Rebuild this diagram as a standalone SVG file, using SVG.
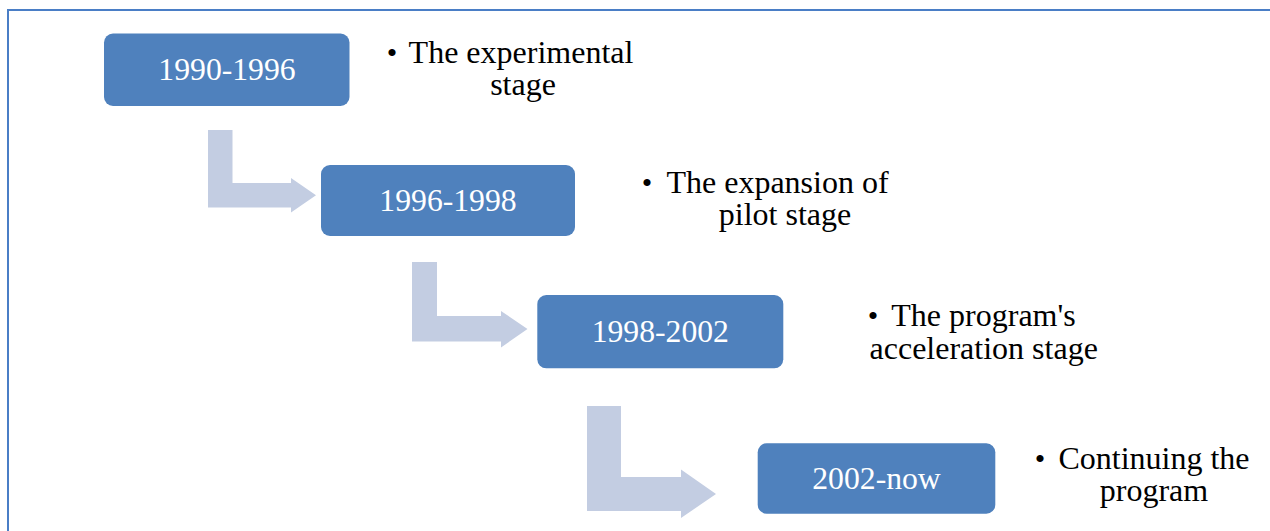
<svg xmlns="http://www.w3.org/2000/svg" width="1270" height="531" viewBox="0 0 1270 531">
<style>
.box{fill:#4F81BD;}
.arr{fill:#C3CDE2;}
.bt{font-family:"Liberation Serif","Times New Roman",serif;font-size:31.7px;fill:#FFFFFF;text-anchor:middle;}
.lt{font-family:"Liberation Serif","Times New Roman",serif;font-size:32px;fill:#000000;text-anchor:middle;}
.bu{font-family:"Liberation Serif","Times New Roman",serif;font-size:30px;fill:#000000;text-anchor:middle;}
</style>
<rect width="1270" height="531" fill="#FFFFFF"/>
<path d="M8,531 V10 H1270" fill="none" stroke="#4A7EC6" stroke-width="2"/>
<g id="connectors">
<polygon class="arr" points="208,130 232.5,130 232.5,183 291,183 291,178 316,195.3 291,212.5 291,207.5 208,207.5"/>
<polygon class="arr" points="412,262 437,262 437,316 501,316 501,311 527.5,329 501,347.5 501,341.5 412,341.5"/>
<polygon class="arr" points="587,406 621,406 621,477 681,477 681,469.5 716,494 681,518 681,511 587,511"/>
</g>
<g id="node1">
<rect class="box" x="104" y="33.5" width="245.5" height="72.5" rx="9"/>
<text class="bt" x="227" y="80">1990-1996</text>
</g>
<g id="label1">
<text class="bu" x="392" y="62.5">•</text>
<text class="lt" x="521" y="62.5">The experimental</text>
<text class="lt" x="523" y="95">stage</text>
</g>
<g id="node2">
<rect class="box" x="321" y="165" width="254" height="71" rx="9"/>
<text class="bt" x="448" y="210.7">1996-1998</text>
</g>
<g id="label2">
<text class="bu" x="647" y="192.5">•</text>
<text class="lt" x="777.5" y="192.5">The expansion of</text>
<text class="lt" x="785" y="225">pilot stage</text>
</g>
<g id="node3">
<rect class="box" x="537.3" y="295" width="246" height="73.3" rx="9"/>
<text class="bt" x="660.3" y="341.7">1998-2002</text>
</g>
<g id="label3">
<text class="bu" x="873" y="326">•</text>
<text class="lt" x="983.5" y="326">The program's</text>
<text class="lt" x="983.7" y="359.3">acceleration stage</text>
</g>
<g id="node4">
<rect class="box" x="757.7" y="443.3" width="237.6" height="70.4" rx="9"/>
<text class="bt" x="876.5" y="489">2002-now</text>
</g>
<g id="label4">
<text class="bu" x="1040" y="469">•</text>
<text class="lt" x="1154" y="469">Continuing the</text>
<text class="lt" x="1154" y="500.7">program</text>
</g>
</svg>
